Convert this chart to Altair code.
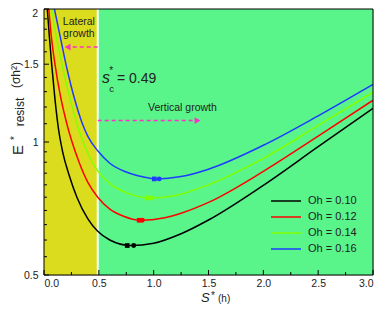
import altair as alt
import pandas as pd

W, H = 329, 266

oh_labels = ["Oh = 0.10", "Oh = 0.12", "Oh = 0.14", "Oh = 0.16"]
colors = ["#000000", "#ff0000", "#80ff00", "#1f3bff"]

s_010 = [0.03, 0.05, 0.07, 0.10, 0.13, 0.17, 0.23, 0.30, 0.40, 0.49, 0.60, 0.79, 1.00, 1.25, 1.50, 2.00, 2.50, 3.00]
E_010 = [2.00, 1.72, 1.50, 1.25, 1.08, 0.95, 0.84, 0.75, 0.67, 0.628, 0.600, 0.583, 0.590, 0.620, 0.666, 0.798, 0.976, 1.192]

s_012 = [0.044, 0.065, 0.10, 0.15, 0.20, 0.25, 0.32, 0.40, 0.49, 0.60, 0.72, 0.88, 1.10, 1.25, 1.50, 2.00, 2.50, 3.00]
E_012 = [2.00, 1.75, 1.50, 1.27, 1.12, 1.01, 0.90, 0.81, 0.75, 0.705, 0.68, 0.665, 0.674, 0.690, 0.730, 0.858, 1.031, 1.243]

s_014 = [0.071, 0.10, 0.14, 0.19, 0.25, 0.30, 0.35, 0.42, 0.49, 0.60, 0.75, 0.96, 1.20, 1.50, 2.00, 2.50, 3.00]
E_014 = [2.00, 1.80, 1.60, 1.40, 1.22, 1.10, 1.01, 0.92, 0.86, 0.805, 0.768, 0.747, 0.757, 0.800, 0.918, 1.090, 1.296]

s_016 = [0.095, 0.15, 0.20, 0.25, 0.30, 0.35, 0.40, 0.49, 0.60, 0.75, 0.90, 1.03, 1.25, 1.50, 2.00, 2.50, 3.00]
E_016 = [2.00, 1.72, 1.50, 1.33, 1.20, 1.10, 1.03, 0.955, 0.895, 0.855, 0.834, 0.825, 0.835, 0.868, 0.983, 1.146, 1.35]

# minima markers (square, circle)
min_sq_s = [0.759, 0.868, 0.94, 1.006]
min_ci_s = [0.818, 0.897, 0.98, 1.05]
min_E = [0.583, 0.665, 0.747, 0.825]

sc = 0.49
x_major = [0, 0.5, 1.0, 1.5, 2.0, 2.5, 3.0]
x_minor = [0.25, 0.75, 1.25, 1.75, 2.25, 2.75]
y_major = [0.5, 1, 1.5, 2]
y_minor = [0.55, 0.6, 0.65, 0.7, 0.75, 0.8, 0.85, 0.9, 0.95, 1.1, 1.2, 1.3, 1.4, 1.6, 1.7, 1.8, 1.9]

rows = []
for lab, ss, ee in zip(oh_labels, [s_010, s_012, s_014, s_016], [E_010, E_012, E_014, E_016]):
    for a, b in zip(ss, ee):
        rows.append({"s": a, "E": b, "Oh": lab})
df = pd.DataFrame(rows)

df_sq = pd.DataFrame({"s": min_sq_s, "E": min_E, "Oh": oh_labels})
df_ci = pd.DataFrame({"s": min_ci_s, "E": min_E, "Oh": oh_labels})

xs = alt.Scale(domain=[0, 3], nice=False, zero=False)
ys = alt.Scale(type="log", domain=[0.5, 2], nice=False)
cs = alt.Scale(domain=oh_labels, range=colors)

FONT = "Liberation Sans"
TXT = "#222222"
PINK = "#ff30c8"

bg = alt.Chart(pd.DataFrame({"x0": [0, sc], "x1": [sc, 3], "c": ["#dcdc1e", "#5af58a"]})).mark_rect().encode(
    x=alt.X("x0:Q", scale=xs, axis=alt.Axis(values=x_major, format=".1f", ticks=False, tickSize=0, domain=False,
                                           grid=False, labelFontSize=10.5, labelColor=TXT, labelPadding=3, title=None)),
    x2="x1:Q",
    y=alt.value(0), y2=alt.value(H),
    color=alt.Color("c:N", scale=None),
)

vline = alt.Chart(pd.DataFrame({"x": [sc]})).mark_rule(color="white", strokeWidth=2).encode(x=alt.X("x:Q", scale=xs))

lines = alt.Chart(df).mark_line(interpolate="monotone", strokeWidth=1.5, clip=True).encode(
    x=alt.X("s:Q", scale=xs),
    y=alt.Y("E:Q", scale=ys, axis=alt.Axis(values=y_major,
                                          labelExpr="datum.value >= 2 ? '' : '' + datum.value",
                                          ticks=False, tickSize=0,
                                          domain=False, grid=False, labelFontSize=10.5, labelColor=TXT,
                                          labelPadding=6, title=None)),
    color=alt.Color("Oh:N", scale=cs, legend=alt.Legend(
        title=None, orient="none", legendX=226, legendY=184, symbolType="stroke", symbolSize=900,
        symbolStrokeWidth=1.5, clipHeight=16, rowPadding=0, labelFontSize=11, labelColor=TXT, labelOffset=6,
        padding=0, labelFont=FONT)),
)

sq = alt.Chart(df_sq).mark_point(shape="square", filled=True, size=22, opacity=1).encode(
    x=alt.X("s:Q", scale=xs), y=alt.Y("E:Q", scale=ys), color=alt.Color("Oh:N", scale=cs, legend=None))
ci = alt.Chart(df_ci).mark_point(shape="circle", filled=True, size=24, opacity=1).encode(
    x=alt.X("s:Q", scale=xs), y=alt.Y("E:Q", scale=ys), color=alt.Color("Oh:N", scale=cs, legend=None))

# arrows
arr_df = pd.DataFrame({"x": [sc, sc], "x2": [0.25, 1.37], "y": [1.64, 1.118]})
arr = alt.Chart(arr_df).mark_rule(color=PINK, strokeWidth=1.5, strokeDash=[4, 3]).encode(
    x=alt.X("x:Q", scale=xs), x2="x2:Q", y=alt.Y("y:Q", scale=ys))
headL = alt.Chart(pd.DataFrame({"x": [0.215], "y": [1.64]})).mark_point(
    shape="triangle-left", filled=True, size=45, color=PINK, opacity=1).encode(
    x=alt.X("x:Q", scale=xs), y=alt.Y("y:Q", scale=ys))
headR = alt.Chart(pd.DataFrame({"x": [1.40], "y": [1.118]})).mark_point(
    shape="triangle-right", filled=True, size=45, color=PINK, opacity=1).encode(
    x=alt.X("x:Q", scale=xs), y=alt.Y("y:Q", scale=ys))

# annotation texts in data coords
ann_df = pd.DataFrame({
    "x": [0.318, 0.318, 1.262],
    "y": [1.873, 1.753, 1.193],
    "t": ["Lateral", "growth", "Vertical growth"],
})
ann = alt.Chart(ann_df).mark_text(font=FONT, fontSize=10.5, color=TXT, align="center", baseline="middle").encode(
    x=alt.X("x:Q", scale=xs), y=alt.Y("y:Q", scale=ys), text="t:N")

s_txt = alt.Chart(pd.DataFrame({"x": [0.53], "y": [1.36]})).mark_text(
    font=FONT, fontSize=16, fontStyle="italic", color=TXT, align="left", baseline="alphabetic").encode(
    x=alt.X("x:Q", scale=xs), y=alt.Y("y:Q", scale=ys), text=alt.value("s"))
star_txt = alt.Chart(pd.DataFrame({"x": [0.595], "y": [1.45]})).mark_text(
    font=FONT, fontSize=10, color=TXT, align="left", baseline="middle").encode(
    x=alt.X("x:Q", scale=xs), y=alt.Y("y:Q", scale=ys), text=alt.value("*"))
c_txt = alt.Chart(pd.DataFrame({"x": [0.595], "y": [1.315]})).mark_text(
    font=FONT, fontSize=9.5, color=TXT, align="left", baseline="middle").encode(
    x=alt.X("x:Q", scale=xs), y=alt.Y("y:Q", scale=ys), text=alt.value("c"))
eq_txt = alt.Chart(pd.DataFrame({"x": [0.665], "y": [1.36]})).mark_text(
    font=FONT, fontSize=14, color=TXT, align="left", baseline="alphabetic").encode(
    x=alt.X("x:Q", scale=xs), y=alt.Y("y:Q", scale=ys), text=alt.value("= 0.49"))

# inward ticks
xticks_maj = alt.Chart(pd.DataFrame({"v": x_major})).mark_rule(color="black").encode(
    x=alt.X("v:Q", scale=xs), y=alt.value(H), y2=alt.value(H - 5))
xticks_min = alt.Chart(pd.DataFrame({"v": x_minor})).mark_rule(color="black").encode(
    x=alt.X("v:Q", scale=xs), y=alt.value(H), y2=alt.value(H - 3))
yticks_maj = alt.Chart(pd.DataFrame({"v": y_major})).mark_rule(color="black").encode(
    y=alt.Y("v:Q", scale=ys), x=alt.value(0), x2=alt.value(5))
yticks_min = alt.Chart(pd.DataFrame({"v": y_minor})).mark_rule(color="black").encode(
    y=alt.Y("v:Q", scale=ys), x=alt.value(0), x2=alt.value(3))

frame = alt.Chart(pd.DataFrame({"a": [0]})).mark_rect(fillOpacity=0, stroke="black", strokeWidth=1).encode(
    x=alt.value(0), x2=alt.value(W), y=alt.value(0), y2=alt.value(H))

one = pd.DataFrame({"a": [0]})
# top y label "2" kept inside the canvas
y2lab = alt.Chart(one).mark_text(font=FONT, fontSize=10.5, color=TXT, align="right", baseline="middle").encode(
    x=alt.value(-6), y=alt.value(5), text=alt.value("2"))

# y title pieces (rotated)
yE = alt.Chart(one).mark_text(font=FONT, fontSize=15, angle=270, color=TXT, align="center", baseline="middle").encode(
    x=alt.value(-26), y=alt.value(141), text=alt.value("E"))
yStar = alt.Chart(one).mark_text(font=FONT, fontSize=10, angle=270, color=TXT, align="center", baseline="middle").encode(
    x=alt.value(-29), y=alt.value(129), text=alt.value("*"))
yRes = alt.Chart(one).mark_text(font=FONT, fontSize=12, angle=270, color=TXT, align="center", baseline="middle").encode(
    x=alt.value(-24), y=alt.value(103), text=alt.value("resist"))
yUnit = alt.Chart(one).mark_text(font=FONT, fontSize=12, angle=270, color=TXT, align="center", baseline="middle").encode(
    x=alt.value(-28), y=alt.value(66), text=alt.value("(σh²)"))

# x title pieces
xS = alt.Chart(one).mark_text(font=FONT, fontSize=13, fontStyle="italic", color=TXT, align="left", baseline="alphabetic").encode(
    x=alt.value(157), y=alt.value(293), text=alt.value("S"))
xStar = alt.Chart(one).mark_text(font=FONT, fontSize=10, color=TXT, align="left", baseline="alphabetic").encode(
    x=alt.value(167), y=alt.value(290), text=alt.value("*"))
xH = alt.Chart(one).mark_text(font=FONT, fontSize=10, color=TXT, align="left", baseline="alphabetic").encode(
    x=alt.value(174), y=alt.value(293), text=alt.value("(h)"))

chart = alt.layer(
    bg, vline, lines, sq, ci, arr, headL, headR, ann, s_txt, star_txt, c_txt, eq_txt,
    xticks_maj, xticks_min, yticks_maj, yticks_min, frame, y2lab,
    yE, yStar, yRes, yUnit, xS, xStar, xH,
).properties(
    width=W, height=H,
    autosize=alt.AutoSizeParams(type="none"),
    padding={"left": 36, "top": 1, "right": 8, "bottom": 30},
).configure_view(stroke=None).configure(font=FONT)

chart.save("out.html", embed_options={"renderer": "svg", "actions": False})
